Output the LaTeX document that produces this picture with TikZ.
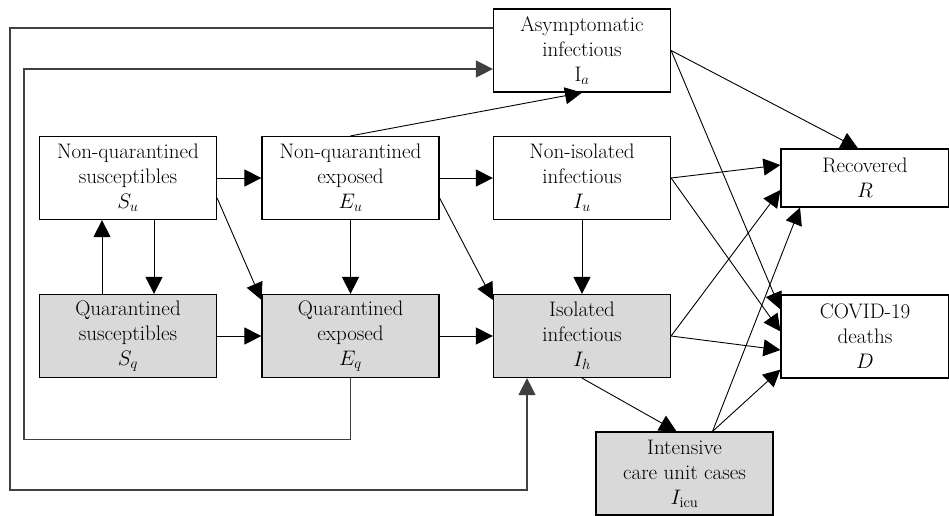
\RequirePackage{fix-cm}
\documentclass[tikz,border=0pt]{standalone}
\usepackage{amsmath}
\usepackage{fontspec}
\usetikzlibrary{arrows.meta}

\begin{document}
\begin{tikzpicture}[x=1pt, y=-1pt, line width=0.9pt,
  box/.style = {draw, line width=1.2pt, align=center, inner sep=0pt,
                minimum width=177pt, minimum height=83pt,
                font=\fontsize{21}{25}\selectfont},
  qbox/.style = {box, fill=black!15},
  flow/.style = {-{Triangle[length=17pt,width=17pt]}},
  loop/.style = {flow, draw=black!75, line width=1.1pt}]
  \useasboundingbox (0,0) rectangle (949,515);

  % compartments
  \node[box] (Ia) at (582,50.5) {Asymptomatic\\infectious\\I$_a$};
  \node[box] (Su) at (128,178) {Non-quarantined\\susceptibles\\$S_u$};
  \node[box] (Eu) at (350.5,178) {Non-quarantined\\exposed\\$E_u$};
  \node[box] (Iu) at (582,178) {Non-isolated\\infectious\\$I_u$};
  \node[box, minimum width=168pt, minimum height=58pt] (R) at (865,178) {Recovered\\$R$};
  \node[qbox] (Sq) at (128,336) {Quarantined\\susceptibles\\$S_q$};
  \node[qbox] (Eq) at (350.5,336) {Quarantined\\exposed\\$E_q$};
  \node[qbox] (Ih) at (582,336) {Isolated\\infectious\\$I_h$};
  \node[box, minimum width=168pt] (D) at (865,336.5) {COVID-19\\deaths\\$D$};
  \node[qbox] (Icu) at (684.5,473.5) {Intensive\\care unit cases\\$I_{\text{icu}}$};

  % transitions
  \draw[flow] (Su.east) -- (Eu.west);
  \draw[flow] (Eu.east) -- (Iu.west);
  \draw[flow] (Sq.east) -- (Eq.west);
  \draw[flow] (Eq.east) -- (Ih.west);
  \draw[flow] ([xshift=26pt]Su.south) -- ([xshift=26pt]Sq.north);
  \draw[flow] ([xshift=-26pt]Sq.north) -- ([xshift=-26pt]Su.south);
  \draw[flow] (Eu.south) -- (Eq.north);
  \draw[flow] (Iu.south) -- (Ih.north);
  \draw[flow] ([yshift=-20pt]Su.east) -- ([yshift=-6pt]Eq.north west);
  \draw[flow] ([yshift=-20pt]Eu.east) -- ([yshift=-6pt]Ih.north west);
  \draw[flow] (Eu.north) -- (Ia.south);
  \draw[flow] (Ih.south) -- ([xshift=-8pt]Icu.north);

  % outcomes
  \draw[flow] (Ia.east) -- ([xshift=-7pt]R.north);
  \draw[flow] (Ia.east) -- ([yshift=-15pt]D.north west);
  \draw[flow] (Iu.east) -- ([yshift=13pt]R.west);
  \draw[flow] (Iu.east) -- ([yshift=-37pt]D.north west);
  \draw[flow] (Ih.east) -- ([yshift=-12pt]R.west);
  \draw[flow] (Ih.east) -- ([yshift=-13.5pt]D.west);
  \draw[flow] ([xshift=28pt]Icu.north) -- ([xshift=-65pt]R.south);
  \draw[flow] ([xshift=28pt]Icu.north) -- ([yshift=9pt]D.south west);

  % feedback loops
  \draw[loop] (Eq.south) -- ++(0,61) -| (24,69) -- ([yshift=-18.5pt]Ia.west);
  \draw[loop] ([yshift=22.5pt]Ia.west) -| (10,490) -| ([xshift=-55pt]Ih.south);

\end{tikzpicture}
\end{document}
